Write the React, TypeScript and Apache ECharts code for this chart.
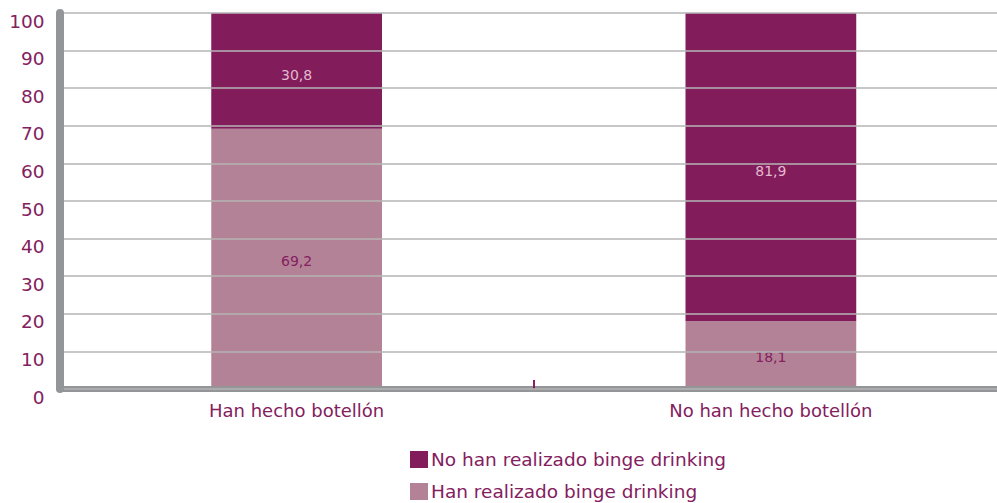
import React, { useEffect, useRef } from "react";
import * as echarts from "echarts";

const categories = ["Han hecho botellón", "No han hecho botellón"];
const seriesNames = ["Han realizado binge drinking", "No han realizado binge drinking"];
const hanRealizado = [69.2, 18.1];
const noHanRealizado = [30.8, 81.9];
const yTicks = { min: 0, max: 100, interval: 10 };

const PURPLE = "#84205e";
const DARK = "#821c5b";
const LIGHT = "#b48297";
const FONT = "'DejaVu Sans', sans-serif";

export default function App() {
  const ref = useRef<HTMLDivElement>(null);
  useEffect(() => {
    if (!ref.current) return;
    const chart = echarts.init(ref.current, undefined, { renderer: "svg" });
    const fmt = (p: any) => String(p.value).replace(".", ",");
    const legendBase = {
      orient: "horizontal",
      left: 405,
      itemWidth: 18,
      itemHeight: 17,
      icon: "rect",
      textStyle: { color: PURPLE, fontSize: 18.5, fontFamily: FONT, padding: [0, 0, 0, -2] },
    };
    chart.setOption({
      animation: false,
      grid: { left: 59.5, right: 0, top: 13, bottom: 114, containLabel: false },
      legend: [
        { ...legendBase, data: [seriesNames[1]], top: 445 },
        { ...legendBase, data: [seriesNames[0]], top: 477 },
      ],
      xAxis: {
        type: "category",
        data: categories,
        offset: 2,
        axisLine: { show: true, lineStyle: { color: "#939598", width: 6 } },
        axisTick: { show: true, inside: true, length: 9, lineStyle: { color: PURPLE, width: 2 } },
        axisLabel: { color: PURPLE, fontSize: 18, fontFamily: FONT, margin: 10 },
        z: 5,
      },
      yAxis: {
        type: "value",
        min: yTicks.min,
        max: yTicks.max,
        interval: yTicks.interval,
        z: 6,
        axisLine: { show: true, lineStyle: { color: "#939598", width: 8 } },
        axisTick: { show: false },
        axisLabel: { color: PURPLE, fontSize: 18.5, fontFamily: FONT, margin: 15, verticalAlign: "top", lineHeight: 16 },
        splitLine: { show: true, lineStyle: { color: "#b5b5b5", width: 1.5 } },
      },
      series: [
        {
          name: seriesNames[0],
          type: "bar",
          stack: "total",
          data: hanRealizado,
          barWidth: "36%",
          itemStyle: { color: LIGHT },
          label: { show: true, position: "inside", offset: [0, 2], color: PURPLE, fontSize: 14, fontFamily: FONT, formatter: fmt },
        },
        {
          name: seriesNames[1],
          type: "bar",
          stack: "total",
          data: noHanRealizado,
          barWidth: "36%",
          itemStyle: { color: DARK },
          label: { show: true, position: "inside", offset: [0, 4], color: "#e3b9cf", fontSize: 14, fontFamily: FONT, formatter: fmt },
        },
      ],
    });
    return () => chart.dispose();
  }, []);
  return (
    <div style={{ width: 997, height: 503, position: "absolute", left: 0, top: 0, overflow: "hidden" }}>
      <div ref={ref} style={{ width: 1008, height: 503 }} />
    </div>
  );
}
